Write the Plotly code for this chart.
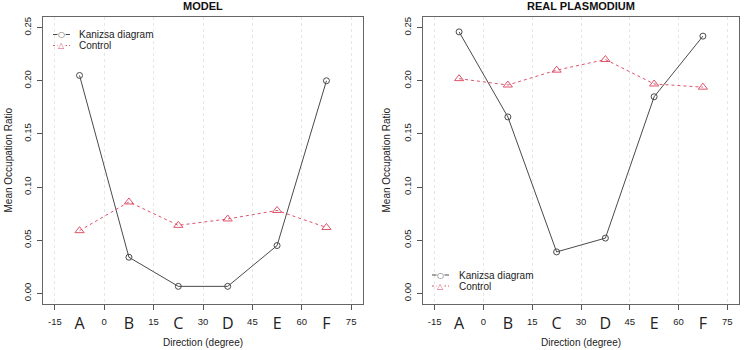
import plotly.graph_objects as go

categories = ['A', 'B', 'C', 'D', 'E', 'F']
directions = [-7.5, 7.5, 22.5, 37.5, 52.5, 67.5]
x_ticks = [-15, 0, 15, 30, 45, 60, 75]
y_ticks = [0.00, 0.05, 0.10, 0.15, 0.20, 0.25]
y_tick_labels = ['0.00', '0.05', '0.10', '0.15', '0.20', '0.25']
series_names = ['Kanizsa diagram', 'Control']

model_kanizsa = [0.205, 0.034, 0.0066, 0.0066, 0.045, 0.200]
model_control = [0.059, 0.086, 0.064, 0.070, 0.078, 0.062]
real_kanizsa = [0.246, 0.166, 0.039, 0.052, 0.185, 0.242]
real_control = [0.202, 0.196, 0.210, 0.220, 0.197, 0.194]

GRAY = '#4a4a4a'
RED = '#DF536B'
FONT = 'Liberation Sans, Arial, sans-serif'

W, H = 744, 350
ML, MR, MT, MB = 43, 5, 17, 46
PW = W - ML - MR
PH = H - MT - MB
d1 = [0, (363 - ML) / PW]
d2 = [(423 - ML) / PW, 1.0]


def px(x):
    return (x - ML) / PW


def py(y):
    return (H - MB - y) / PH


fig = go.Figure()


def add_pair(kan, ctrl, xa, ya):
    fig.add_trace(go.Scatter(
        x=directions, y=kan, mode='lines+markers', name=series_names[0],
        line=dict(color=GRAY, width=1),
        marker=dict(symbol='circle-open', size=6, color=GRAY, line=dict(width=1)),
        xaxis=xa, yaxis=ya, showlegend=False))
    fig.add_trace(go.Scatter(
        x=directions, y=ctrl, mode='lines+markers', name=series_names[1],
        line=dict(color=RED, width=1, dash='3px,3px'),
        marker=dict(symbol='triangle-up-open', size=8, color=RED, line=dict(width=1)),
        xaxis=xa, yaxis=ya, showlegend=False))


add_pair(model_kanizsa, model_control, 'x', 'y')
add_pair(real_kanizsa, real_control, 'x2', 'y2')

# dummy traces so the overlay letter axes render
for xa, ya in (('x3', 'y'), ('x4', 'y2')):
    fig.add_trace(go.Scatter(x=[directions[0]], y=[None], xaxis=xa, yaxis=ya,
                             showlegend=False, hoverinfo='skip', mode='markers'))

xr = [-18.6, 78.6]
yr = [-0.01, 0.26]

num_axis = dict(range=xr, tickmode='array', tickvals=x_ticks, ticktext=[str(v) for v in x_ticks],
                ticks='outside', ticklen=5, tickcolor='#555', tickfont=dict(size=9.5, family=FONT, color='#222'),
                showline=True, linecolor='#666', linewidth=1, mirror=True,
                showgrid=True, gridcolor='#e6e6e6', griddash='dot', gridwidth=1,
                zeroline=False, ticklabelstandoff=4)
let_axis = dict(range=xr, tickmode='array', tickvals=directions, ticktext=categories,
                ticks='outside', ticklen=5, tickcolor='rgba(0,0,0,0)',
                tickfont=dict(size=16, family='Open Sans, sans-serif', color='#222'),
                showline=False, showgrid=False, zeroline=False, side='bottom', ticklabelstandoff=0)
y_axis = dict(range=yr, tickmode='array', tickvals=y_ticks, ticktext=y_tick_labels,
              ticks='outside', ticklen=5, tickcolor='#555', tickangle=-90,
              tickfont=dict(size=9.5, family=FONT, color='#222'),
              showline=True, linecolor='#666', linewidth=1, mirror=True,
              showgrid=False, zeroline=False, ticklabelstandoff=2)

fig.update_layout(
    width=W, height=H, margin=dict(l=ML, r=MR, t=MT, b=MB),
    paper_bgcolor='white', plot_bgcolor='white',
    font=dict(family=FONT, size=10, color='#222'),
    xaxis=dict(num_axis, domain=d1, anchor='y'),
    xaxis2=dict(num_axis, domain=d2, anchor='y2'),
    xaxis3=dict(let_axis, overlaying='x', anchor='y'),
    xaxis4=dict(let_axis, overlaying='x2', anchor='y2'),
    yaxis=dict(y_axis, anchor='x'),
    yaxis2=dict(y_axis, anchor='x2'),
    showlegend=False,
)


def ann(text, x, y, size=10, angle=0, color='#222', xanchor='center', family=FONT, height=None):
    d = dict(text=text, x=x, y=y, xref='paper', yref='paper', showarrow=False,
             xanchor=xanchor, yanchor='middle', textangle=angle, borderpad=0,
             font=dict(size=size, family=family, color=color))
    if height is not None:
        d['height'] = height
    return d


annotations = [
    ann('<b>MODEL</b>', (d1[0] + d1[1]) / 2, py(6), size=11, color='#111'),
    ann('<b>REAL PLASMODIUM</b>', (d2[0] + d2[1]) / 2, py(6), size=11, color='#111'),
    ann('Direction (degree)', (d1[0] + d1[1]) / 2, py(342)),
    ann('Direction (degree)', (d2[0] + d2[1]) / 2, py(342)),
    ann('Mean Occupation Ratio', px(8), 0.5, angle=-90),
    ann('Mean Occupation Ratio', px(386), 0.5, angle=-90),
]

shapes = []


def legend_block(x0, y_first, x_text):
    rows = [(series_names[0], GRAY, 'solid', '○'), (series_names[1], RED, '2px,2px', '△')]
    for i, (name, col, dash, glyph) in enumerate(rows):
        yy = y_first + i * 11
        shapes.append(dict(type='line', xref='paper', yref='paper', x0=px(x0), x1=px(x0 + 17),
                           y0=py(yy), y1=py(yy), line=dict(color=col, width=1, dash=dash)))
        annotations.append(dict(text=glyph, x=px(x0 + 8.5), y=py(yy), xref='paper', yref='paper',
                                showarrow=False, xanchor='center', yanchor='middle', bgcolor='white',
                                borderpad=0, height=9,
                                font=dict(size=8, family='DejaVu Sans', color=col)))
        annotations.append(ann(name, px(x_text), py(yy), xanchor='left'))


legend_block(53, 34.5, 78)
legend_block(432, 275, 458)

fig.update_layout(annotations=annotations, shapes=shapes)

fig.write_html('out.html', config={'displayModeBar': False},
               post_script="document.body.style.margin='0';")
